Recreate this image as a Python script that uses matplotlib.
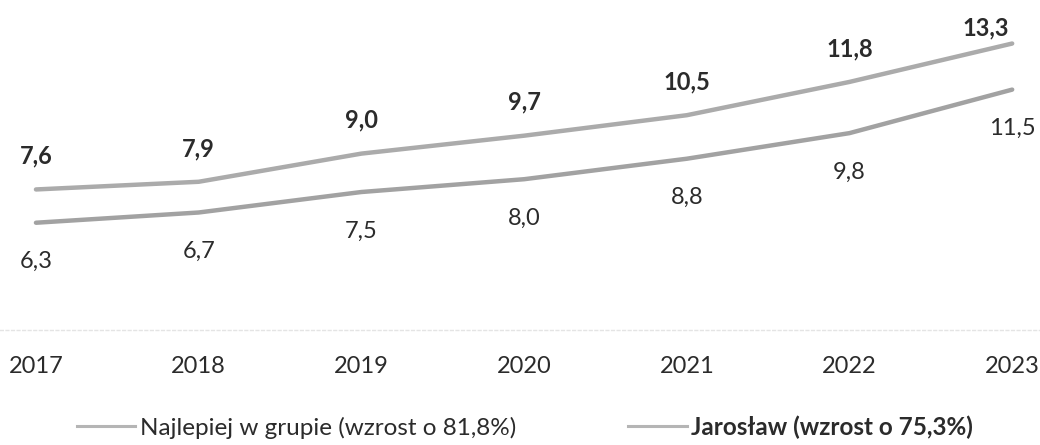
import matplotlib
matplotlib.use('Agg')
import matplotlib.pyplot as plt
from matplotlib.lines import Line2D

years = [2017, 2018, 2019, 2020, 2021, 2022, 2023]
jaroslaw = [7.6, 7.9, 9.0, 9.7, 10.5, 11.8, 13.3]
best_in_group = [6.3, 6.7, 7.5, 8.0, 8.8, 9.8, 11.5]
label_best = 'Najlepiej w grupie (wzrost o 81,8%)'
label_jaroslaw = 'Jarosław (wzrost o 75,3%)'

plt.rcParams['font.family'] = ['Lato', 'DejaVu Sans']
text_color = '#2b2b2b'

fig = plt.figure(figsize=(10.4, 4.45), dpi=100)
ax = fig.add_axes([0.0, 0.2584, 1.0, 0.7416])

ax.plot(years, jaroslaw, color='#ababab', lw=3.2, solid_capstyle='round')
ax.plot(years, best_in_group, color='#a2a2a2', lw=3.2, solid_capstyle='round')

# value labels: bold above the upper line, regular below the lower one
for i, (x, v) in enumerate(zip(years, jaroslaw)):
    dx, dy = (0, 24)
    if i == len(years) - 1:
        dx, dy = (-19, 11.5)
    ax.annotate(f'{v:.1f}'.replace('.', ','), (x, v), xytext=(dx, dy),
                textcoords='offset points', ha='center', va='center',
                fontsize=17, fontweight='bold', color=text_color)
for x, v in zip(years, best_in_group):
    ax.annotate(f'{v:.1f}'.replace('.', ','), (x, v), xytext=(0, -28),
                textcoords='offset points', ha='center', va='center',
                fontsize=17, color=text_color)

ax.set_xlim(2016.779, 2023.171)
ax.set_ylim(2.11, 15.0)
ax.set_xticks(years)
ax.set_xticklabels([str(y) for y in years])
ax.set_yticks([])
ax.tick_params(axis='x', length=0, pad=19, labelsize=17, labelcolor=text_color)
for side in ['top', 'right', 'left']:
    ax.spines[side].set_visible(False)
ax.spines['bottom'].set_color('#e4e4e4')
ax.spines['bottom'].set_linestyle((0, (2, 2)))
ax.spines['bottom'].set_linewidth(1.0)

handles = [Line2D([], [], color='#b5b5b5', lw=2.2),
           Line2D([], [], color='#b5b5b5', lw=2.2)]
leg = fig.legend(handles, [label_best, label_jaroslaw], loc='center',
                 bbox_to_anchor=(0.505, 0.04), ncol=2, frameon=False,
                 fontsize=17.5, handlelength=2.4, handletextpad=0.2,
                 columnspacing=4.6, borderpad=0)
for t in leg.get_texts():
    t.set_color(text_color)
leg.get_texts()[1].set_fontweight('bold')

fig.savefig('out.png', dpi=100, facecolor='white')
